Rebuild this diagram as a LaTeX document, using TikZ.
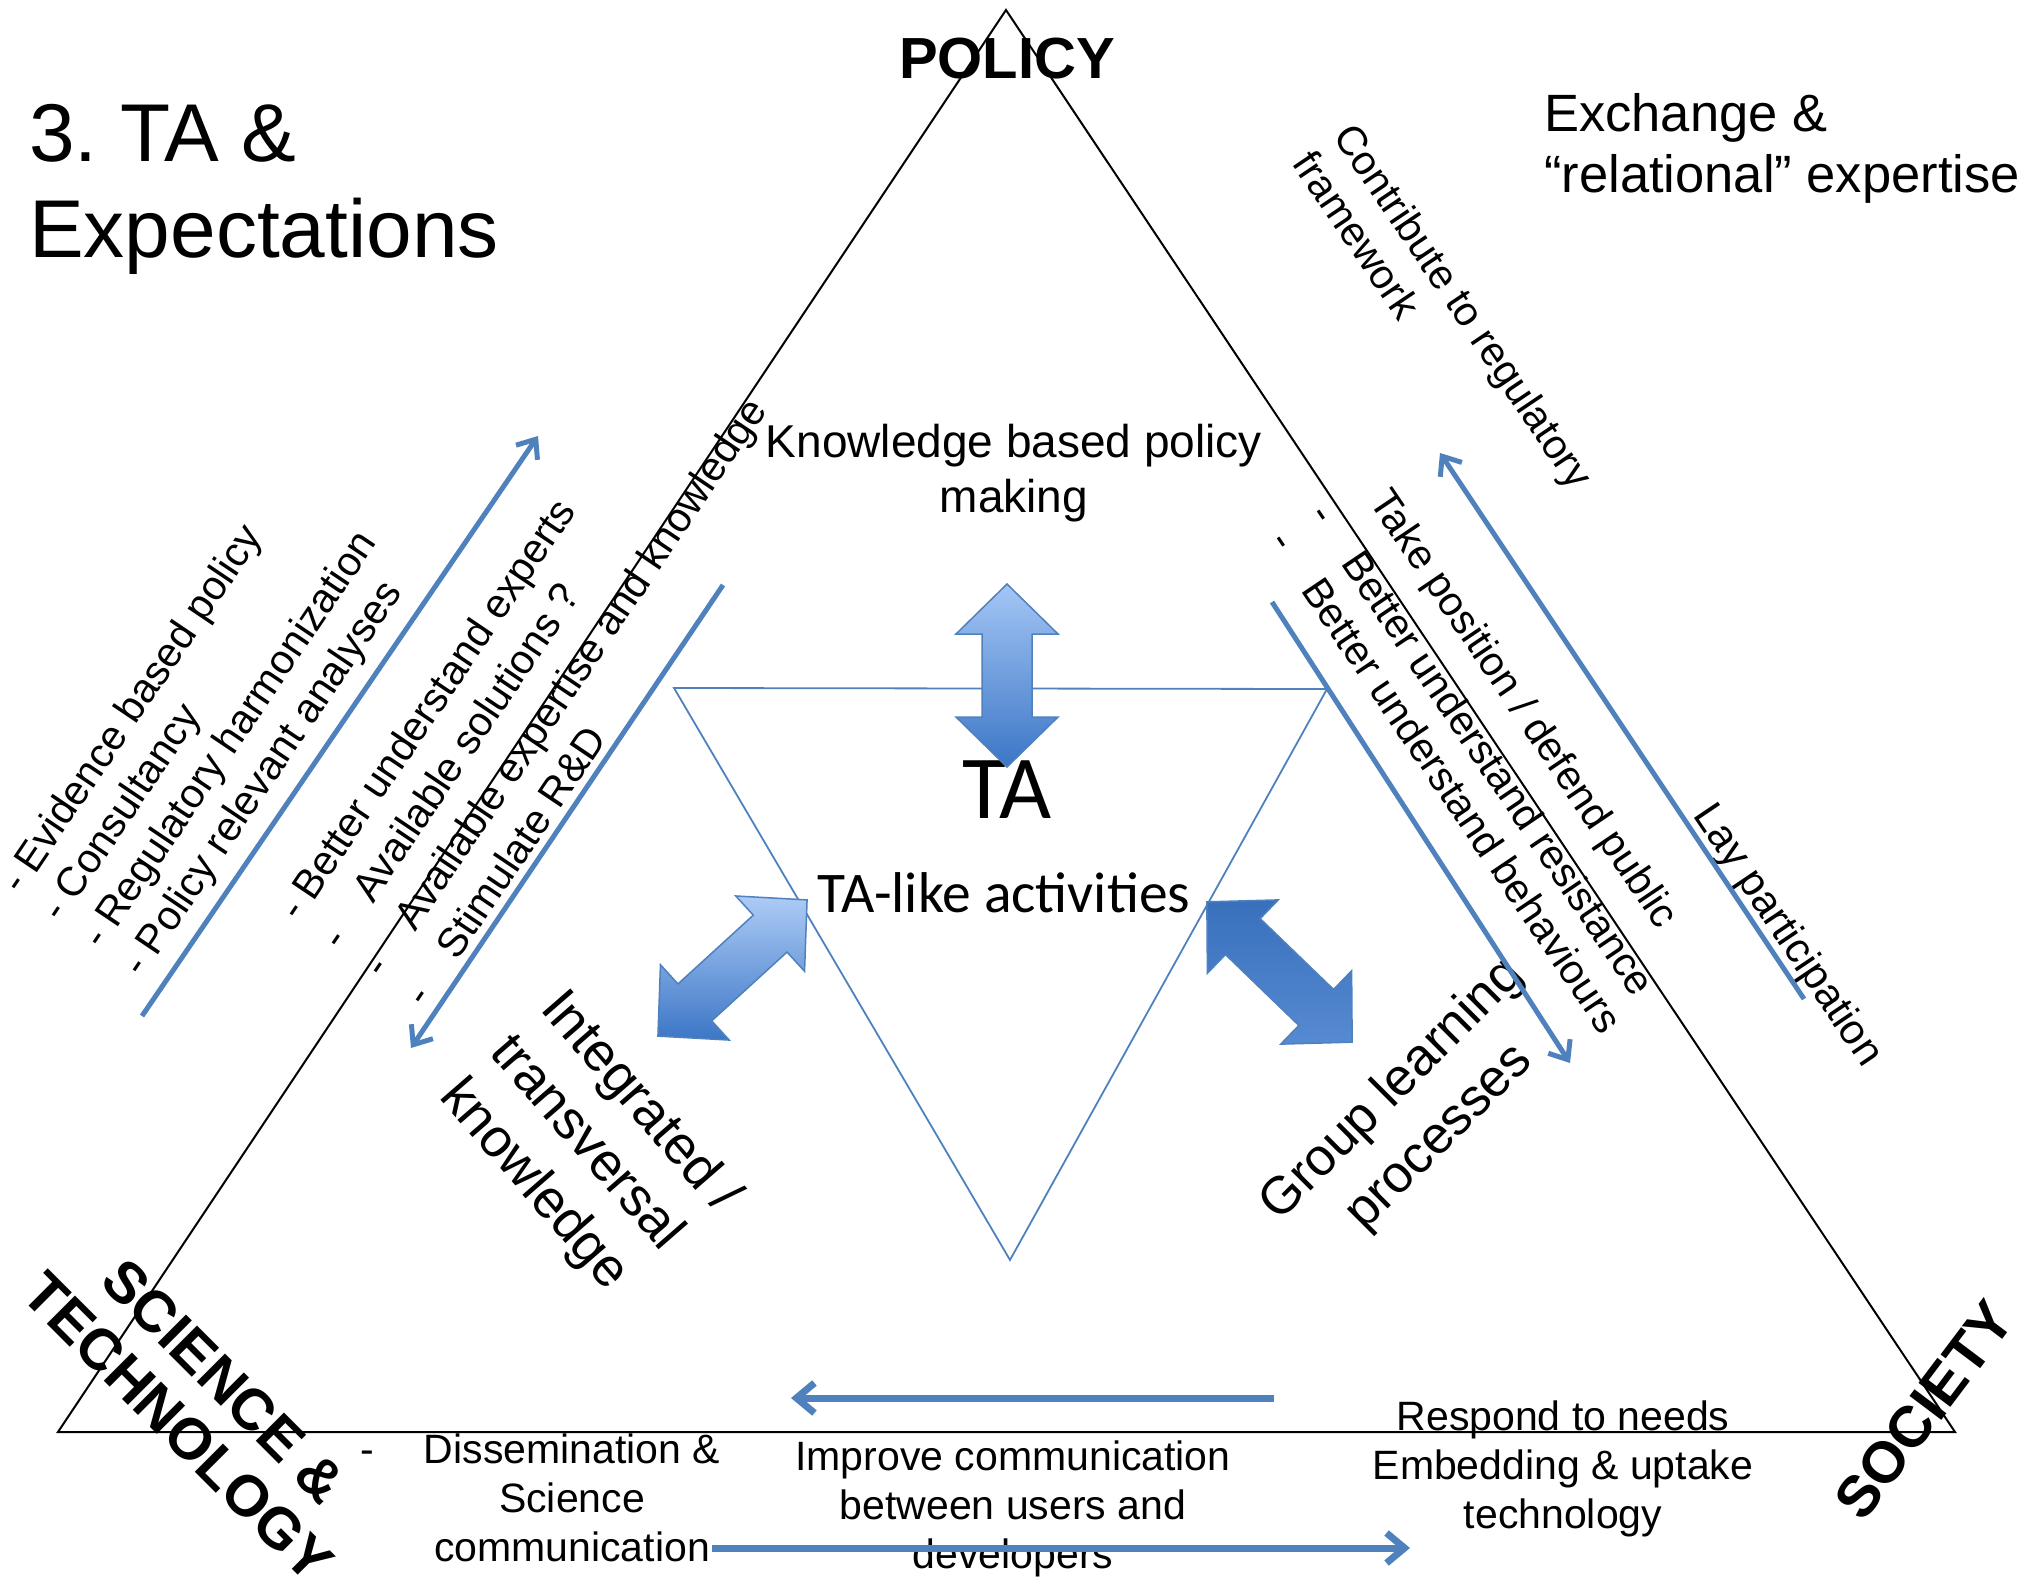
\documentclass[tikz,border=0pt]{standalone}
\usepackage{fontspec}
\setmainfont{Liberation Sans}
\newfontfamily\calibrifont{Carlito}
\usetikzlibrary{
    positioning,  % relative placement
    arrows.meta,  % Straight Barb tips
    calc          % coordinate arithmetic
}

\definecolor{ta_blue}{HTML}{4F81BD}
\definecolor{arrow_light}{HTML}{A4C6F5}
\definecolor{arrow_dark}{HTML}{3C76C6}

% font size in picture pixels (1px = 1pt here)
\newcommand{\pxsize}[2]{\fontsize{#1pt}{#2pt}\selectfont}

% fat double-headed arrow: [shading], centre, angle, length
\newcommand{\blockarrow}[4][]{%
  \begin{scope}[shift={#2}, rotate=#3]
    \path[block_arrow, #1] (-#4/2,0) -- ++(50,-51) -- ++(0,26) -- (#4/2-50,-25) -- ++(0,-26)
      -- (#4/2,0) -- ++(-50,51) -- ++(0,-26) -- (-#4/2+50,25) -- ++(0,26) -- cycle;
  \end{scope}}

\begin{document}
\frenchspacing
\begin{tikzpicture}[
    x=1pt, y=-1pt,
    % Global style settings
    outer_tri/.style={draw=black, line width=2pt},
    inner_tri/.style={draw=ta_blue, line width=1.8pt},
    % Style for the thin blue arrows
    thin_arrow/.style={draw=ta_blue, line width=5pt, -{Straight Barb[length=16pt, width=26pt]}},
    flat_arrow/.style={draw=ta_blue, line width=7pt, -{Straight Barb[length=18pt, width=30pt]}},
    block_arrow/.style={draw=ta_blue, line width=1.5pt, top color=arrow_light, bottom color=arrow_dark},
    % Styles for the text labels
    side_text/.style={inner sep=0pt, anchor=base west, font=\pxsize{41}{48}},
    corner_text/.style={inner sep=0pt, anchor=base, font=\pxsize{58}{66}\bfseries},
    big_text/.style={inner sep=0pt, anchor=base, font=\pxsize{54}{67}},
    bottom_text/.style={inner sep=0pt, anchor=base, font=\pxsize{41}{49}}
]
    \useasboundingbox (0,0) rectangle (2034,1580);

    % 1. The two triangles.
    \coordinate (policy_pt) at (1006,10);
    \coordinate (science_pt) at (58,1432);
    \coordinate (society_pt) at (1955,1432);
    \draw[outer_tri] (policy_pt) -- (science_pt) -- (society_pt) -- cycle;

    \coordinate (ta_left) at (674,688);
    \coordinate (ta_right) at (1327,689);
    \coordinate (ta_bottom) at (1010,1260);
    \draw[inner_tri] (ta_left) -- (ta_right) -- (ta_bottom) -- cycle;

    % 2. Corner labels and headings.
    \node[corner_text] (policy) at (1007,78) {POLICY};
    \begin{scope}[shift={(210,1395)}, rotate=-45, transform shape]
        \node[corner_text] (science) at (0,0) {SCIENCE \&};
        \node[corner_text] (technology) at (0,65) {TECHNOLOGY};
    \end{scope}
    \node[corner_text, rotate=53] (society) at (1940,1422) {SOCIETY};

    \node[inner sep=0pt, anchor=base west, font=\pxsize{82}{96}] (title_top) at (29,161) {3. TA \&};
    \node[inner sep=0pt, anchor=base west, font=\pxsize{82}{96}] (title_bottom) at (29,257) {Expectations};
    \node[inner sep=0pt, anchor=base west, font=\pxsize{52.5}{61}] (exchange_top) at (1544,131) {Exchange \&};
    \node[inner sep=0pt, anchor=base west, font=\pxsize{52.5}{61}] (exchange_bottom) at (1544,192) {“relational” expertise};

    % 3. Centre of the picture.
    \node[inner sep=0pt, anchor=base, font=\pxsize{46}{55}] (kbp_top) at (1014,457) {Knowledge based policy};
    \node[inner sep=0pt, anchor=base, font=\pxsize{46}{55}] (kbp_bottom) at (1014,512) {making};
    \node[inner sep=0pt, anchor=base, font=\calibrifont\pxsize{90}{100}] (ta) at (1007,818) {TA};
    \node[inner sep=0pt, anchor=base, font=\calibrifont\pxsize{57.5}{66}] (ta_like) at (1004,912) {TA-like activities};

    \blockarrow{(1007,675.5)}{90}{183}
    \blockarrow[top color=arrow_light!90!white]{(732.5,968)}{42.4}{202}
    \blockarrow[top color=arrow_dark!95!black, bottom color=arrow_dark!75!arrow_light]{(1279.5,972)}{-44}{202}

    % 4. Rotated lists along the sides.
    \begin{scope}[shift={(21,896)}, rotate=56, transform shape]
        \foreach \itemtext [count=\i from 0] in {- Evidence based policy, - Consultancy, - Regulatory harmonization, - Policy relevant analyses}
            \node[side_text] (policy_list_\i) at (0,\i*49) {\itemtext};
    \end{scope}
    \begin{scope}[shift={(299,923)}, rotate=56, transform shape]
        \foreach \itemtext [count=\i from 0] in {- Better understand experts, -\hspace{43pt}Available solutions ?, -\hspace{43pt}Available expertise and knowledge, -\hspace{43pt}Stimulate R\&D}
            \node[side_text] (science_list_\i) at (0,\i*51) {\itemtext};
    \end{scope}
    \begin{scope}[shift={(1332,136)}, rotate=-56, transform shape]
        \node[side_text] (regul_top) at (0,0) {Contribute to regulatory};
        \node[side_text] (regul_bottom) at (0,49) {framework};
    \end{scope}
    \begin{scope}[shift={(1356,483)}, rotate=-56, transform shape]
        \node[side_text] (public_0) at (22,0) {Take position / defend public};
        \node[side_text] (public_1) at (0,58) {-\hspace{44pt}Better understand resistance};
        \node[side_text] (public_2) at (0,106) {-\hspace{44pt}Better understand behaviours};
    \end{scope}
    \node[side_text, rotate=-56, font=\pxsize{42}{48}] (lay) at (1692,815) {Lay participation};

    \begin{scope}[shift={(539,1009)}, rotate=-49, transform shape]
        \foreach \itemtext [count=\i from 0] in {Integrated /, transversal, knowledge}
            \node[big_text, anchor=base west] (integrated_\i) at (0,\i*67) {\itemtext};
    \end{scope}
    \begin{scope}[shift={(1402,1100)}, rotate=45, transform shape]
        \node[big_text, font=\pxsize{52.5}{67}] (group_top) at (0,0) {Group learning};
        \node[big_text, font=\pxsize{52.5}{67}] (group_bottom) at (0,67) {processes};
    \end{scope}

    % 5. Bottom labels.
    \node[bottom_text] (diss_dash) at (367,1463) {-};
    \foreach \itemtext [count=\i from 0] in {Dissemination \&, Science, communication}
        \node[bottom_text] (diss_\i) at (572,1463+\i*49) {\itemtext};
    \foreach \itemtext [count=\i from 0] in {Improve communication, between users and, developers}
        \node[bottom_text] (improve_\i) at (1013,1470+\i*49) {\itemtext};
    \foreach \itemtext [count=\i from 0] in {Respond to needs, Embedding \& uptake, technology}
        \node[bottom_text] (respond_\i) at (1563,1430+\i*49) {\itemtext};

    % 6. Thin blue arrows.
    \coordinate (left_up_start) at (142,1016);
    \coordinate (left_up_end) at (538,436);
    \coordinate (left_down_start) at (723,585);
    \coordinate (left_down_end) at (411,1048);
    \coordinate (right_up_start) at (1804,999);
    \coordinate (right_up_end) at (1440,453);
    \coordinate (right_down_start) at (1272,602);
    \coordinate (right_down_end) at (1570,1063);
    \coordinate (bottom_left_start) at (1274,1398);
    \coordinate (bottom_left_end) at (791,1398);
    \coordinate (bottom_right_start) at (712,1548);
    \coordinate (bottom_right_end) at (1410,1548);

    \draw[thin_arrow] (left_up_start) -- (left_up_end);
    \draw[thin_arrow] (left_down_start) -- (left_down_end);
    \draw[thin_arrow] (right_up_start) -- (right_up_end);
    \draw[thin_arrow] (right_down_start) -- (right_down_end);
    \draw[flat_arrow] (bottom_left_start) -- (bottom_left_end);
    \draw[flat_arrow] (bottom_right_start) -- (bottom_right_end);

\end{tikzpicture}
\end{document}
